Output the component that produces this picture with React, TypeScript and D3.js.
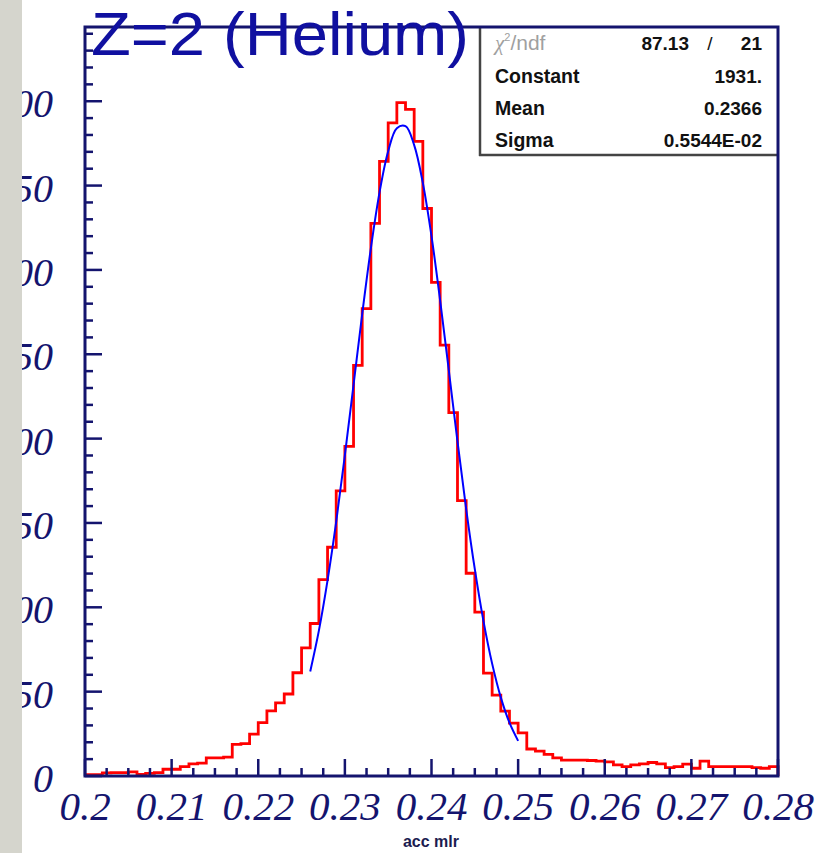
import * as d3 from "d3";

// histogram "acc mlr", 80 bins of 0.001 from 0.200 to 0.280
const binLow = 0.2;
const binWidth = 0.001;
const binCounts = [
  4, 4, 9, 10, 10, 12, 5, 8, 10, 20,
  20, 28, 36, 38, 54, 54, 56, 94, 96, 124,
  158, 193, 217, 243, 306, 380, 452, 582, 678, 845,
  977, 1217, 1385, 1638, 1822, 1936, 1996, 1976, 1881, 1682,
  1463, 1277, 1077, 816, 601, 486, 305, 240, 192, 157,
  128, 80, 74, 64, 54, 47, 47, 47, 46, 44,
  42, 33, 28, 33, 36, 40, 36, 25, 28, 35,
  23, 44, 28, 28, 28, 28, 28, 25, 23, 28,
];

// gaussian fit curve
const fitX = [
  0.226, 0.227, 0.228, 0.229, 0.23, 0.231, 0.232, 0.233, 0.234, 0.235, 0.236, 0.237, 0.238,
  0.239, 0.24, 0.241, 0.242, 0.243, 0.244, 0.245, 0.246, 0.247, 0.248, 0.249, 0.25,
];
const fitY = [
  310, 431, 580, 754, 951, 1159, 1369, 1564, 1730, 1852, 1920, 1926, 1870,
  1758, 1600, 1409, 1202, 992, 792, 613, 459, 333, 233, 158, 104,
];

const xTicks = [0.2, 0.21, 0.22, 0.23, 0.24, 0.25, 0.26, 0.27, 0.28];
const xTickLabels = ["0.2", "0.21", "0.22", "0.23", "0.24", "0.25", "0.26", "0.27", "0.28"];
const yTicks = [0, 250, 500, 750, 1000, 1250, 1500, 1750, 2000];

const statsRows = [
  { label: "Constant", value: "1931." },
  { label: "Mean", value: "0.2366" },
  { label: "Sigma", value: "0.5544E-02" },
];

const navy = "#14146e";
const serif = "'Liberation Serif', 'Times New Roman', serif";
const sans = "'Liberation Sans', Arial, Helvetica, sans-serif";

export default function App() {
  const width = 819;
  const height = 853;
  const left = 85, right = 778, top = 27, bottom = 776;

  const x = d3.scaleLinear().domain([0.2, 0.28]).range([left, right]);
  const y = d3.scaleLinear().domain([0, 2220]).range([bottom, top]);

  // step outline of the histogram
  const steps: [number, number][] = [];
  binCounts.forEach((c, i) => {
    const lo = binLow + i * binWidth;
    steps.push([x(lo), y(c)]);
    steps.push([x(lo + binWidth), y(c)]);
  });
  steps.push([x(binLow + binCounts.length * binWidth), y(0)]);
  const histPath = d3.line()(steps);

  const fitPath = d3
    .line<number>()
    .x((d, i) => x(fitX[i]))
    .y((d) => y(d))
    .curve(d3.curveCatmullRom)(fitY);

  const xMinor = d3.range(0.2, 0.2801, 0.0025);
  const yMinor = d3.range(0, 2201, 50);

  return (
    <svg
      width={width}
      height={height}
      style={{ position: "absolute", left: 0, top: 0, background: "#fff" }}
    >
      <rect x={0} y={0} width={width} height={height} fill="#fff" />

      {/* y tick labels (partly hidden behind the grey strip, as in the source) */}
      {yTicks.map((t) => (
        <text
          key={"yl" + t}
          x={53}
          y={y(t) + 16}
          textAnchor="end"
          fontFamily={serif}
          fontStyle="italic"
          fontSize={40}
          fill={navy}
        >
          {t}
        </text>
      ))}
      <rect x={0} y={0} width={22} height={height} fill="#d5d5cd" />

      {/* histogram and fit */}
      <path d={histPath ?? ""} fill="none" stroke="#ff0000" strokeWidth={2.8} />
      <path d={fitPath ?? ""} fill="none" stroke="#0000ff" strokeWidth={2} />

      {/* ticks */}
      {xMinor.map((t, i) => (
        <line
          key={"xm" + i}
          x1={x(t)}
          x2={x(t)}
          y1={bottom}
          y2={bottom - (i % 4 === 0 ? 17 : 8)}
          stroke={navy}
          strokeWidth={2.5}
        />
      ))}
      {yMinor.map((t, i) => (
        <line
          key={"ym" + i}
          x1={left}
          x2={left + (i % 5 === 0 ? 17 : 8)}
          y1={y(t)}
          y2={y(t)}
          stroke={navy}
          strokeWidth={2.5}
        />
      ))}

      {/* stats box */}
      <rect x={480} y={top} width={right - 480} height={155 - top} fill="#fff" stroke="#333" strokeWidth={1} />
      <line x1={480} x2={480} y1={top} y2={156} stroke="#444" strokeWidth={2.5} />
      <line x1={479} x2={right} y1={155} y2={155} stroke="#444" strokeWidth={2.5} />
      <text x={495} y={50} fontFamily={sans} fontSize={21} fill="#a0a0a0" fontWeight={300}>
        <tspan fontStyle="italic" fontFamily={serif}>χ</tspan>
        <tspan fontSize={11} dy={-9}>2</tspan>
        <tspan dy={9}>/ndf</tspan>
      </text>
      <text x={689} y={50} textAnchor="end" fontFamily={sans} fontWeight="bold" fontSize={19} fill="#111">
        87.13
      </text>
      <text x={710} y={50} textAnchor="middle" fontFamily={sans} fontSize={19} fill="#111">
        /
      </text>
      <text x={762} y={50} textAnchor="end" fontFamily={sans} fontWeight="bold" fontSize={19} fill="#111">
        21
      </text>
      {statsRows.map((r, i) => (
        <g key={r.label}>
          <text x={495} y={83 + i * 32} fontFamily={sans} fontWeight="bold" fontSize={19.5} fill="#111">
            {r.label}
          </text>
          <text x={762} y={83 + i * 32} textAnchor="end" fontFamily={sans} fontWeight="bold" fontSize={19} fill="#111">
            {r.value}
          </text>
        </g>
      ))}

      {/* frame */}
      <rect x={left} y={top} width={right - left} height={bottom - top} fill="none" stroke={navy} strokeWidth={3} />

      {/* x tick labels */}
      {xTicks.map((t, i) => (
        <text
          key={"xl" + t}
          x={x(t)}
          y={820}
          textAnchor="middle"
          fontFamily={serif}
          fontStyle="italic"
          fontSize={41}
          fill={navy}
        >
          {xTickLabels[i]}
        </text>
      ))}

      <text x={431} y={847} textAnchor="middle" fontFamily={sans} fontWeight="bold" fontSize={16} fill="#1c1c50">
        acc mlr
      </text>

      {/* title */}
      <text
        x={91}
        y={55}
        fontFamily={sans}
        fontSize={61}
        fill="#1010a0"
        textLength={378}
        lengthAdjust="spacingAndGlyphs"
      >
        Z=2 (Helium)
      </text>
    </svg>
  );
}
